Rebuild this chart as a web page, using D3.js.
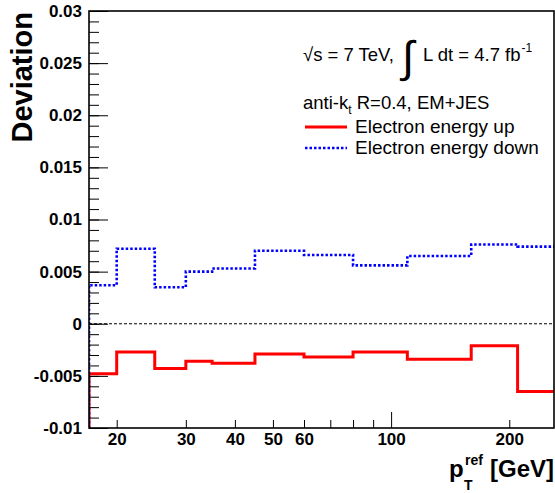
<!DOCTYPE html>
<html>
<head>
<meta charset="utf-8">
<script src="https://cdn.jsdelivr.net/npm/d3@7"></script>
<style>
  html, body { margin: 0; padding: 0; background: #fff; }
  svg { display: block; }
  text { font-family: "Liberation Sans", Arial, Helvetica, sans-serif; }
</style>
</head>
<body>
<svg id="chart" width="555" height="493"></svg>
<script>
// ---- data ----
const binEdges = [17, 20, 25, 30, 35, 45, 60, 80, 110, 160, 210, 260];
const energyUp   = [-0.0048, -0.0027, -0.0043, -0.0036, -0.0038, -0.0029, -0.0032, -0.0027, -0.0034, -0.0021, -0.0065];
const energyDown = [0.0037, 0.0072, 0.0035, 0.0050, 0.0053, 0.0070, 0.0066, 0.0056, 0.0065, 0.0076, 0.0074];
const xLabelTicks = [20, 30, 40, 50, 60, 100, 200];
const xMinorTicks = [70, 80, 90];
const yMajorTicks = [-0.01, -0.005, 0, 0.005, 0.01, 0.015, 0.02, 0.025, 0.03];
const yTickLabels = ["-0.01", "-0.005", "0", "0.005", "0.01", "0.015", "0.02", "0.025", "0.03"];
const seriesNames = ["Electron energy up", "Electron energy down"];

// ---- layout ----
const L = 89, R = 554, T = 11, B = 428;
const svg = d3.select("#chart");
const x = d3.scaleLog().domain([17, 260]).range([L, R]);
const y = d3.scaleLinear().domain([-0.01, 0.03]).range([B, T]);

svg.append("defs").append("clipPath").attr("id", "clip")
  .append("rect").attr("x", L).attr("y", T).attr("width", R - L).attr("height", B - T);

// zero dashed line
svg.append("line")
  .attr("x1", L).attr("x2", R).attr("y1", y(0)).attr("y2", y(0))
  .attr("stroke", "#000").attr("stroke-width", 1).attr("stroke-dasharray", "3,2");

// histogram outlines
function histPoints(vals) {
  const pts = [[binEdges[0], -0.01]];
  vals.forEach((v, i) => { pts.push([binEdges[i], v]); pts.push([binEdges[i + 1], v]); });
  return pts;
}
const line = d3.line().x(d => x(d[0])).y(d => y(d[1]));
const g = svg.append("g").attr("clip-path", "url(#clip)");
g.append("path").attr("d", line(histPoints(energyUp)))
  .attr("fill", "none").attr("stroke", "#ff0000").attr("stroke-width", 3);
g.append("path").attr("d", line(histPoints(energyDown)))
  .attr("fill", "none").attr("stroke", "#0000ff").attr("stroke-width", 2.6)
  .attr("stroke-dasharray", "2.5,2");

// y axis
const yMinor = d3.range(-0.01, 0.03001, 0.001).map(v => +v.toFixed(4));
svg.append("g").attr("transform", `translate(${L},0)`)
  .call(d3.axisLeft(y).tickValues(yMinor).tickSize(-10).tickFormat(""))
  .call(s => s.select(".domain").remove());
svg.append("g").attr("transform", `translate(${L},0)`)
  .call(d3.axisLeft(y).tickValues(yMajorTicks).tickSize(-19).tickPadding(7)
    .tickFormat((d, i) => yTickLabels[i]))
  .call(s => s.select(".domain").remove())
  .call(s => s.selectAll("text").attr("font-size", 17).attr("font-weight", "bold")
    .attr("font-family", "'Liberation Sans', Arial, sans-serif").attr("fill", "#000"));

// x axis
svg.append("g").attr("transform", `translate(0,${B})`)
  .call(d3.axisBottom(x).tickValues(xMinorTicks).tickSize(-8).tickFormat(""))
  .call(s => s.select(".domain").remove());
svg.append("g").attr("transform", `translate(0,${B})`)
  .call(d3.axisBottom(x).tickValues(xLabelTicks).tickSize(-8).tickPadding(5).tickFormat(d3.format("d")))
  .call(s => s.select(".domain").remove())
  .call(s => s.selectAll("text").attr("font-size", 17).attr("font-weight", "bold")
    .attr("font-family", "'Liberation Sans', Arial, sans-serif").attr("fill", "#000"))
  .call(s => s.selectAll(".tick line").filter(d => d === 100).attr("y2", -16));

// frame
svg.append("rect").attr("x", L).attr("y", T).attr("width", R - L).attr("height", B - T)
  .attr("fill", "none").attr("stroke", "#000").attr("stroke-width", 1.6);

// axis titles
svg.append("text").attr("transform", "translate(32,12) rotate(-90)")
  .attr("text-anchor", "end").attr("font-size", 29).attr("font-weight", "bold")
  .text("Deviation");

const xTitle = svg.append("g").attr("font-weight", "bold");
xTitle.append("text").attr("x", 449).attr("y", 477).attr("font-size", 24).text("p");
xTitle.append("text").attr("x", 465).attr("y", 465).attr("font-size", 14).text("ref");
xTitle.append("text").attr("x", 464).attr("y", 490).attr("font-size", 14).text("T");
xTitle.append("text").attr("x", R).attr("y", 477).attr("text-anchor", "end").attr("font-size", 24).text("[GeV]");

// annotation
const ann = svg.append("g").attr("font-size", 18.5);
const t1 = ann.append("text").attr("x", 303).attr("y", 61);
t1.append("tspan").text("\u221As = 7 TeV,");
ann.append("text").attr("x", 402).attr("y", 72).attr("font-size", 44).attr("font-family", "'DejaVu Sans', sans-serif")
  .attr("font-weight", "normal").text("\u222B");
const t2 = ann.append("text").attr("x", 423).attr("y", 61);
t2.append("tspan").text("L dt = 4.7 fb");
t2.append("tspan").attr("font-size", 12).attr("dy", -9).attr("dx", 1).text("-1");

const t3 = ann.append("text").attr("x", 303).attr("y", 109);
t3.append("tspan").text("anti-k");
t3.append("tspan").attr("font-size", 12).attr("dy", 5).text("t");
t3.append("tspan").attr("dy", -5).text(" R=0.4, EM+JES");

// legend
const legendY = [127, 148];
const legendStyles = [
  {color: "#ff0000", dash: null, width: 3},
  {color: "#0000ff", dash: "2.5,2", width: 2.6}
];
seriesNames.forEach((name, i) => {
  svg.append("line").attr("x1", 305).attr("x2", 347).attr("y1", legendY[i]).attr("y2", legendY[i])
    .attr("stroke", legendStyles[i].color).attr("stroke-width", legendStyles[i].width)
    .attr("stroke-dasharray", legendStyles[i].dash);
  svg.append("text").attr("x", 355).attr("y", legendY[i] + 6).attr("font-size", 19).text(name);
});
</script>
</body>
</html>
